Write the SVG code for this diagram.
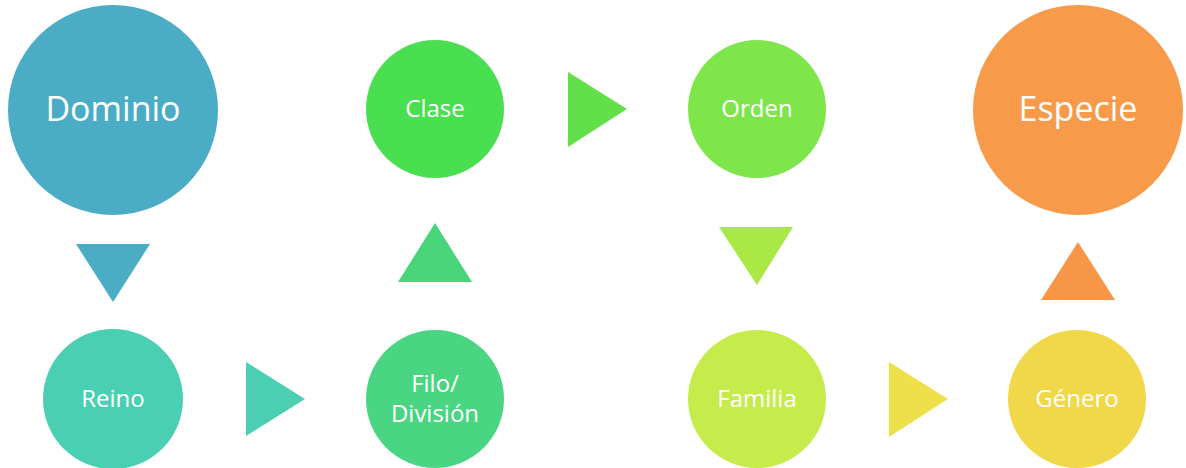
<svg xmlns="http://www.w3.org/2000/svg" width="1186" height="468" viewBox="0 0 1186 468">
<style>
text{font-family:"Open Sans","Noto Sans","DejaVu Sans",sans-serif;fill:#fff;text-anchor:middle}
.big{font-size:34px}
.sm{font-size:24px}
</style>
<rect width="1186" height="468" fill="#fff"/>
<g id="connectors">
<polygon points="76,244 150,244 113,302" fill="#4BACC6"/>
<polygon points="246,362 246,436 305,399" fill="#4BCFB2"/>
<polygon points="398,282 472,282 435,223" fill="#4AD57A"/>
<polygon points="568,72 568,147 627,109" fill="#62E04A"/>
<polygon points="719,227 793,227 757,285" fill="#AAE845"/>
<polygon points="889,362 889,437 948,399" fill="#EEE04A"/>
<polygon points="1041,300 1115,300 1078,242" fill="#F79646"/>
</g>
<g id="dominio"><circle cx="113" cy="110" r="105" fill="#4BACC6"/><text class="big" x="113" y="121">Dominio</text></g>
<g id="reino"><circle cx="113" cy="399" r="70" fill="#4BCFB2"/><text class="sm" x="113" y="407">Reino</text></g>
<g id="filo"><circle cx="435" cy="399" r="69" fill="#4AD582"/><text class="sm" x="435" y="392">Filo/</text><text class="sm" x="435" y="422">División</text></g>
<g id="clase"><circle cx="435" cy="109" r="69" fill="#4ADF50"/><text class="sm" x="435" y="117">Clase</text></g>
<g id="orden"><circle cx="757" cy="109" r="69" fill="#7EE54A"/><text class="sm" x="757" y="117">Orden</text></g>
<g id="familia"><circle cx="757" cy="399" r="69" fill="#C5EC4A"/><text class="sm" x="757" y="407">Familia</text></g>
<g id="genero"><circle cx="1077" cy="399" r="69" fill="#F0D84A"/><text class="sm" x="1077" y="407">Género</text></g>
<g id="especie"><circle cx="1078" cy="110" r="105" fill="#F79A4A"/><text class="big" x="1078" y="121">Especie</text></g>
</svg>
